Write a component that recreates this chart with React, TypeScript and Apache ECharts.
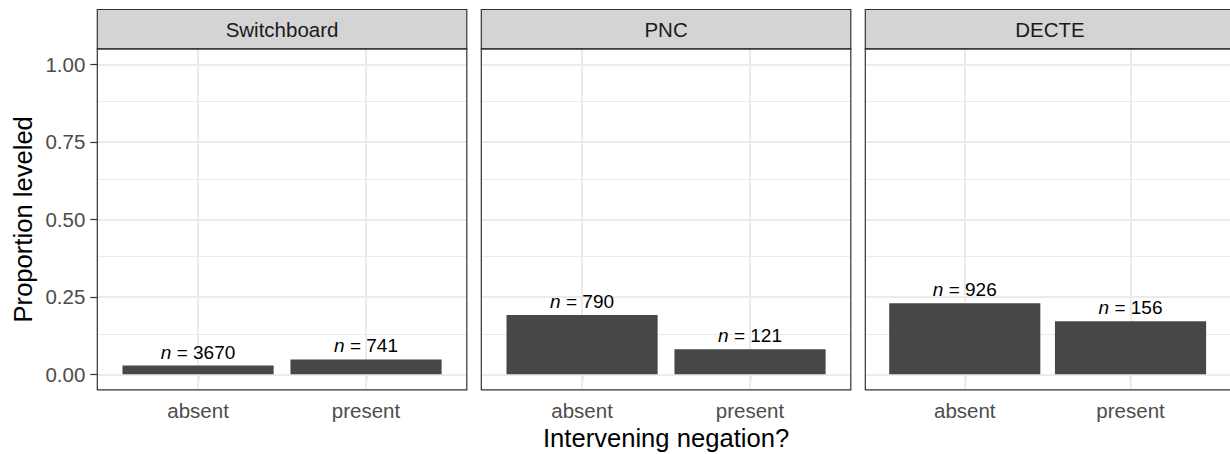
import React, { useEffect, useRef } from 'react';
import * as echarts from 'echarts';

const panels = ['Switchboard', 'PNC', 'DECTE'];
const categories = ['absent', 'present'];
const proportions = [
  [0.028, 0.048],
  [0.191, 0.081],
  [0.229, 0.171],
];
const counts = [
  [3670, 741],
  [790, 121],
  [926, 156],
];
const yTicks = [0, 0.25, 0.5, 0.75, 1];
const yMinor = [0.125, 0.375, 0.625, 0.875];
const xTicks = [1, 2];

const W = 1230;
const H = 454;
const PANEL_LEFT = [97.3, 481.3, 865.3];
const PANEL_W = 369.5;
const PANEL_TOP = 48.8;
const PANEL_H = 341;
const STRIP_TOP = 9.5;
const FONT = '"Liberation Sans", Arial, Helvetica, sans-serif';
const GRID_COLOR = '#EBEBEB';
const DARK = '#333333';

export default function App() {
  const ref = useRef<HTMLDivElement>(null);
  useEffect(() => {
    const chart = echarts.init(ref.current!, null, { renderer: 'svg' });
    const grid = panels.map((_, i) => ({
      left: PANEL_LEFT[i],
      top: PANEL_TOP,
      width: PANEL_W,
      height: PANEL_H,
      containLabel: false,
    }));
    const xAxis = panels.map((_, i) => ({
      type: 'value',
      gridIndex: i,
      min: 0.4,
      max: 2.6,
      splitLine: { show: false },
      axisLine: { show: false },
      axisTick: {
        show: true,
        customValues: xTicks,
        length: 7,
        lineStyle: { color: DARK, width: 1.2 },
      },
      axisLabel: {
        customValues: xTicks,
        formatter: (v: number) => categories[Math.round(v) - 1],
        fontSize: 20.5,
        color: '#4D4D4D',
        margin: 10,
        fontFamily: FONT,
      },
    }));
    const yAxis = panels.map((_, i) => ({
      type: 'value',
      gridIndex: i,
      min: -0.05,
      max: 1.05,
      splitLine: { show: false },
      axisLine: { show: false },
      axisTick: {
        show: i === 0,
        customValues: yTicks,
        length: 7,
        lineStyle: { color: DARK, width: 1.2 },
      },
      axisLabel: {
        show: i === 0,
        customValues: yTicks,
        formatter: (v: number) => v.toFixed(2),
        fontSize: 20.5,
        color: '#4D4D4D',
        margin: 12,
        fontFamily: FONT,
      },
    }));
    const series = panels.map((name, i) => ({
      type: 'bar',
      name,
      xAxisIndex: i,
      yAxisIndex: i,
      z: 2,
      barWidth: (0.9 * PANEL_W) / 2.2,
      itemStyle: { color: '#474747' },
      data: proportions[i].map((v, j) => [xTicks[j], v]),
      label: {
        show: true,
        position: 'top',
        distance: 4,
        fontSize: 19,
        color: '#000',
        fontFamily: FONT,
        formatter: (p: any) => `{i|n} = ${counts[i][p.dataIndex]}`,
        rich: {
          i: { fontStyle: 'italic', fontSize: 19, color: '#000', fontFamily: FONT },
        },
      },
      markLine: {
        silent: true,
        z: 1,
        symbol: ['none', 'none'],
        label: { show: false },
        emphasis: { disabled: true },
        animation: false,
        data: [
          ...yMinor.map((v) => ({ yAxis: v, lineStyle: { color: GRID_COLOR, width: 1, type: 'solid' } })),
          ...yTicks.map((v) => ({ yAxis: v, lineStyle: { color: GRID_COLOR, width: 2, type: 'solid' } })),
          ...xTicks.map((v) => ({ xAxis: v, lineStyle: { color: GRID_COLOR, width: 2, type: 'solid' } })),
        ],
      },
    }));
    const graphic: any[] = [];
    panels.forEach((name, i) => {
      graphic.push({
        type: 'rect',
        z: 100,
        shape: { x: PANEL_LEFT[i], y: STRIP_TOP, width: PANEL_W, height: PANEL_TOP - STRIP_TOP },
        style: { fill: '#D4D4D4', stroke: DARK, lineWidth: 1.2 },
      });
      graphic.push({
        type: 'text',
        z: 101,
        x: PANEL_LEFT[i] + PANEL_W / 2,
        y: (STRIP_TOP + PANEL_TOP) / 2,
        style: {
          text: name,
          align: 'center',
          verticalAlign: 'middle',
          fontSize: 20.5,
          fontFamily: FONT,
          fill: '#1A1A1A',
        },
      });
      graphic.push({
        type: 'rect',
        z: 100,
        shape: { x: PANEL_LEFT[i], y: PANEL_TOP, width: PANEL_W, height: PANEL_H },
        style: { fill: 'none', stroke: DARK, lineWidth: 1.2 },
      });
    });
    graphic.push({
      type: 'text',
      z: 101,
      x: 23.3,
      y: PANEL_TOP + PANEL_H / 2,
      rotation: Math.PI / 2,
      style: {
        text: 'Proportion leveled',
        align: 'center',
        verticalAlign: 'middle',
        fontSize: 25.6,
        fontFamily: FONT,
        fill: '#000',
      },
    });
    graphic.push({
      type: 'text',
      z: 101,
      x: PANEL_LEFT[0] + (PANEL_LEFT[2] + PANEL_W - PANEL_LEFT[0]) / 2,
      y: 437.5,
      style: {
        text: 'Intervening negation?',
        align: 'center',
        verticalAlign: 'middle',
        fontSize: 25.6,
        fontFamily: FONT,
        fill: '#000',
      },
    });
    chart.setOption({
      animation: false,
      backgroundColor: '#FFFFFF',
      grid,
      xAxis,
      yAxis,
      series,
      graphic,
    });
    return () => chart.dispose();
  }, []);
  return <div ref={ref} style={{ position: 'absolute', left: 0, top: 0, width: W, height: H }} />;
}
